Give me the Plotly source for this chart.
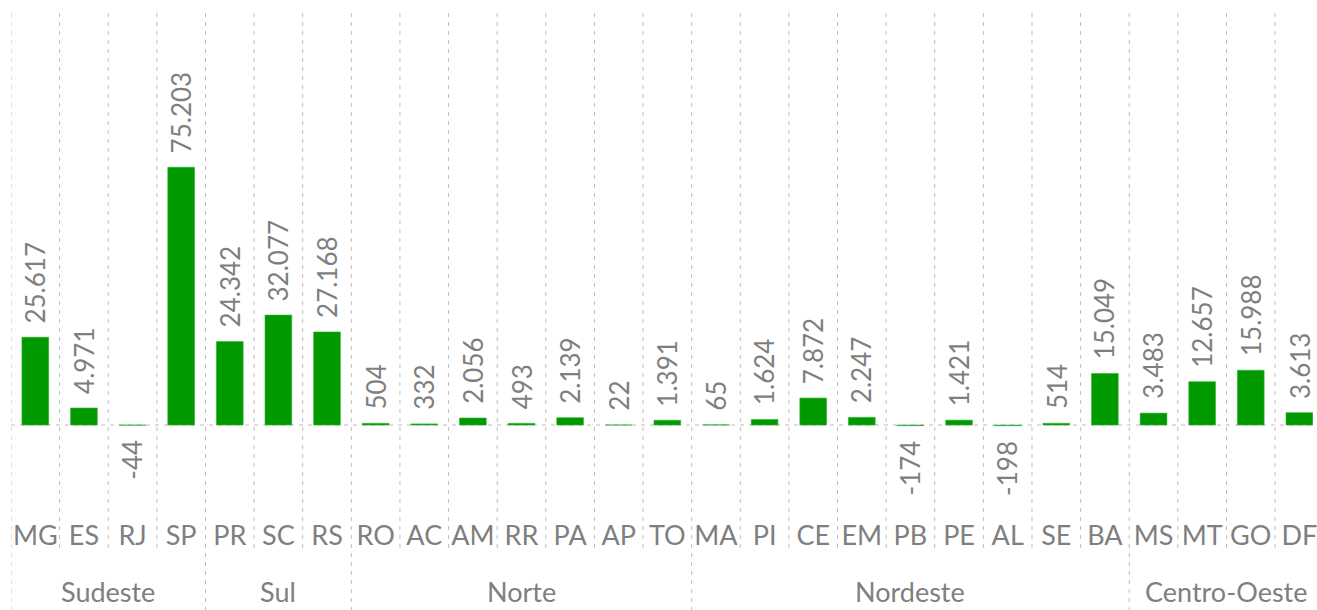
import plotly.graph_objects as go

# ---- data ----
regions = ["Sudeste", "Sul", "Norte", "Nordeste", "Centro-Oeste"]
region_states = [
    ["MG", "ES", "RJ", "SP"],
    ["PR", "SC", "RS"],
    ["RO", "AC", "AM", "RR", "PA", "AP", "TO"],
    ["MA", "PI", "CE", "EM", "PB", "PE", "AL", "SE", "BA"],
    ["MS", "MT", "GO", "DF"],
]
values = [
    25617, 4971, -44, 75203,
    24342, 32077, 27168,
    504, 332, 2056, 493, 2139, 22, 1391,
    65, 1624, 7872, 2247, -174, 1421, -198, 514, 15049,
    3483, 12657, 15988, 3613,
]

states = [s for grp in region_states for s in grp]
xs = list(range(len(states)))

TEXT = "#7f7f7f"
GRID = "#bdbdbd"
FONT = "Lato"

def fmt(v):
    return f"{v:,}".replace(",", ".")

fig = go.Figure()
fig.add_trace(go.Bar(
    x=xs, y=values,
    marker=dict(color="#009900", line=dict(color="#33b033", width=0.6)),
    width=0.55,
    hoverinfo="skip",
))

# value labels
for x, v in zip(xs, values):
    fig.add_annotation(
        x=x, y=v, xref="x", yref="y",
        text=fmt(v), textangle=-90, showarrow=False,
        yanchor="bottom" if v >= 0 else "top",
        yshift=12 if v >= 0 else -13,
        font=dict(family=FONT, size=26, color=TEXT),
    )

# vertical dashed separators
n = len(states)
group_starts = []
pos = 0
for grp in region_states:
    group_starts.append(pos)
    pos += len(grp)
group_starts.append(pos)

for i in range(n + 1):
    is_group = i in group_starts
    fig.add_shape(
        type="line", xref="x", yref="paper",
        x0=i - 0.5, x1=i - 0.5, y0=1, y1=-0.178 if is_group else -0.065,
        line=dict(color=GRID, width=1, dash="4px,5px"), layer="below",
    )

# zero line
fig.add_shape(
    type="line", xref="paper", yref="y", x0=0, x1=1, y0=0, y1=0,
    line=dict(color=GRID, width=1, dash="4px,5px"), layer="below",
)

# region labels
for r, a, b in zip(regions, group_starts[:-1], group_starts[1:]):
    fig.add_annotation(
        x=(a + b - 1) / 2, y=0, xref="x", yref="paper",
        text=r, showarrow=False, yanchor="bottom", yshift=-89, borderpad=0,
        font=dict(family=FONT, size=27, color=TEXT),
    )

fig.update_layout(
    width=1317, height=610,
    margin=dict(l=11, r=0, t=13, b=90),
    paper_bgcolor="white", plot_bgcolor="white",
    showlegend=False,
    xaxis=dict(
        range=[-0.5, 26.28], tickvals=xs, ticktext=states,
        showgrid=False, zeroline=False, showline=False, ticks="",
        tickfont=dict(family=FONT, size=27, color=TEXT),
        ticklabelstandoff=-3, ticklabeloverflow="allow",
    ),
    yaxis=dict(
        range=[-27700, 120200], showgrid=False, zeroline=False,
        showline=False, showticklabels=False,
    ),
)

fig.write_html(
    "out.html",
    config={"displayModeBar": False},
    post_script="document.body.style.margin='0';document.body.style.overflow='hidden';",
)
